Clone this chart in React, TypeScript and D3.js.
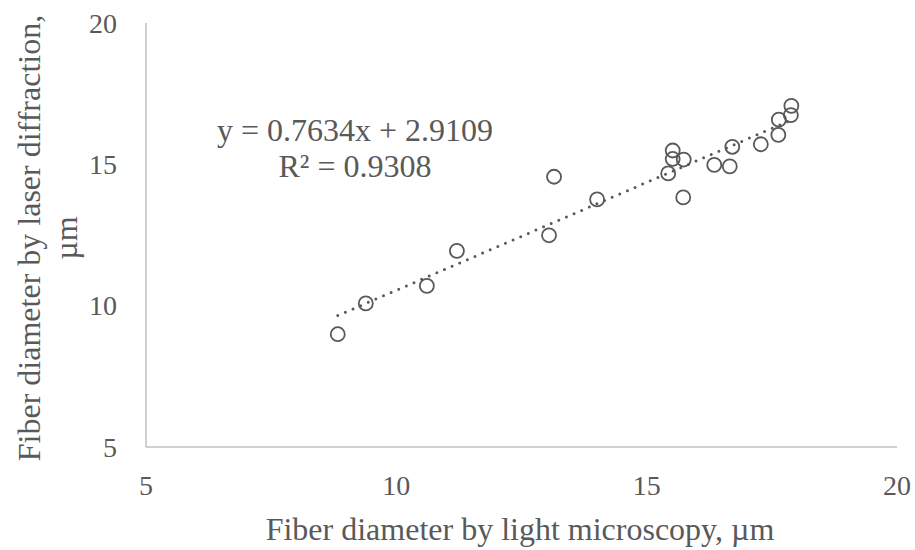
import React from "react";
import * as d3 from "d3";

const xValues = [8.83, 9.39, 10.61, 11.21, 13.05, 13.15, 14.01, 15.43, 15.52, 15.52, 15.74, 15.73, 16.35, 16.66, 16.71, 17.28, 17.63, 17.64, 17.88, 17.89];
const yValues = [8.99, 10.08, 10.70, 11.94, 12.49, 14.56, 13.76, 14.68, 15.49, 15.19, 15.17, 13.83, 14.98, 14.93, 15.62, 15.71, 16.04, 16.58, 16.74, 17.07];
const xTicks = [5, 10, 15, 20];
const yTicks = [5, 10, 15, 20];
const slope = 0.7634;
const intercept = 2.9109;
const eqLine1 = "y = 0.7634x + 2.9109";
const eqLine2 = "R² = 0.9308";
const xTitle = "Fiber diameter by light microscopy, µm";
const yTitle1 = "Fiber diameter by laser diffraction,";
const yTitle2 = "µm";

const W = 915;
const H = 550;
const FONT = "'Liberation Serif', 'Times New Roman', serif";
const TXT = "#595959";

export default function App() {
  const x = d3.scaleLinear().domain([5, 20]).range([146, 897]);
  const y = d3.scaleLinear().domain([5, 20]).range([447, 23]);
  const xmin = d3.min(xValues) as number;
  const xmax = d3.max(xValues) as number;
  const trend = d3.line<number>().x((v) => x(v)).y((v) => y(slope * v + intercept));
  const pts = xValues.map((v, i) => ({ x: v, y: yValues[i] }));
  return (
    <div style={{ position: "absolute", left: 0, top: 0 }}>
      <svg width={W} height={H} style={{ display: "block", background: "#fff" }}>
        <line x1={x(5)} x2={x(20)} y1={y(5)} y2={y(5)} stroke="#BFBFBF" strokeWidth={1.5} />
        <line x1={x(5)} x2={x(5)} y1={y(5)} y2={y(20)} stroke="#BFBFBF" strokeWidth={1.5} />
        {yTicks.map((t) => (
          <text key={"y" + t} x={117} y={y(t)} dy="0.35em" textAnchor="end" fontFamily={FONT} fontSize={28} fill={TXT}>
            {t}
          </text>
        ))}
        {xTicks.map((t) => (
          <text key={"x" + t} x={x(t)} y={495} textAnchor="middle" fontFamily={FONT} fontSize={28} fill={TXT}>
            {t}
          </text>
        ))}
        <text x={520} y={540} textAnchor="middle" fontFamily={FONT} fontSize={32} fill={TXT}>
          {xTitle}
        </text>
        <g transform={`translate(0, 238) rotate(-90)`}>
          <text x={0} y={40} textAnchor="middle" fontFamily={FONT} fontSize={32} fill={TXT}>
            {yTitle1}
          </text>
          <text x={0} y={77} textAnchor="middle" fontFamily={FONT} fontSize={32} fill={TXT}>
            {yTitle2}
          </text>
        </g>
        <path
          d={trend([xmin, xmax]) || ""}
          fill="none"
          stroke="#595959"
          strokeWidth={3}
          strokeDasharray="0 8.3"
          strokeLinecap="round"
        />
        {pts.map((p, i) => (
          <circle key={i} cx={x(p.x)} cy={y(p.y)} r={7} fill="none" stroke="#595959" strokeWidth={1.8} />
        ))}
        <text x={355} y={141} textAnchor="middle" fontFamily={FONT} fontSize={32} fill={TXT}>
          {eqLine1}
        </text>
        <text x={355} y={177} textAnchor="middle" fontFamily={FONT} fontSize={32} fill={TXT}>
          {eqLine2}
        </text>
      </svg>
    </div>
  );
}
